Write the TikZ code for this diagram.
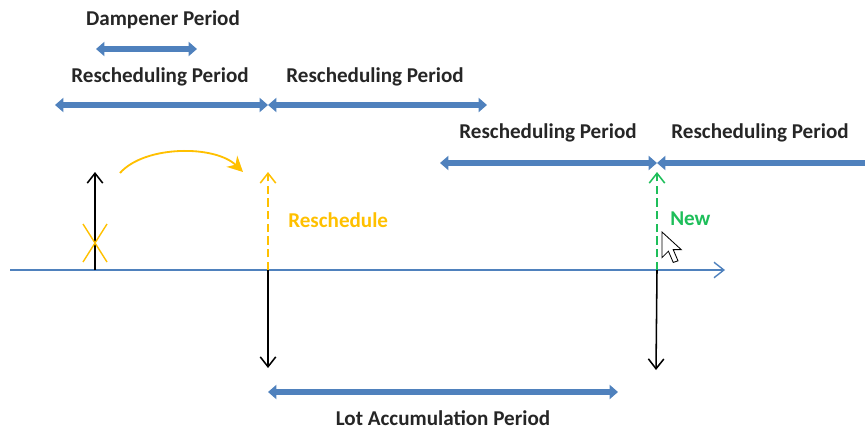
\documentclass[tikz,border=0pt]{standalone}
\usepackage{fontspec}
\setmainfont{Carlito}
\usetikzlibrary{arrows.meta}
\definecolor{periodblue}{RGB}{79,129,189}
\definecolor{reorange}{RGB}{255,192,0}
\definecolor{newgreen}{RGB}{30,190,90}
\definecolor{labelgray}{RGB}{38,38,38}
\begin{document}
\begin{tikzpicture}[x=0.025cm, y=-0.025cm,
  period/.style={periodblue, line width=3.6pt, {Triangle[width=10pt,length=6pt]}-{Triangle[width=10pt,length=6pt]}},
  lbl/.style={font=\bfseries\fontsize{15}{18}\selectfont, text=labelgray, inner sep=0pt},
  tick/.style={line width=1.1pt, -{Straight Barb[length=7pt,width=11pt]}},
  flag/.style={tick, dash pattern=on 6pt off 3pt}]
\useasboundingbox (0,0) rectangle (865,433);
\clip (0,0) rectangle (865,433);
% periods
\node[lbl] (damp) at (163,20) {Dampener Period};
\node[lbl] (res1) at (160,77) {Rescheduling Period};
\node[lbl] (res2) at (375,77) {Rescheduling Period};
\node[lbl] (res3) at (548,133) {Rescheduling Period};
\node[lbl] (res4) at (760,133) {Rescheduling Period};
\node[lbl] (lot) at (443,418) {Lot Accumulation Period};
\coordinate (d1) at (96,49);
\coordinate (d2) at (197,49);
\coordinate (r1) at (55,105);
\coordinate (r2) at (268,105);
\coordinate (r3) at (487,105);
\coordinate (s1) at (440,163);
\coordinate (s2) at (657,163);
\coordinate (s3) at (885,163);
\coordinate (l1) at (268,392);
\coordinate (l2) at (618,392);
\draw[period] (d1) -- (d2);
\draw[period] (r1) -- (r2);
\draw[period] (r2) -- (r3);
\draw[period] (s1) -- (s2);
\draw[period] (s2) -- (s3);
\draw[period] (l1) -- (l2);
% time line
\coordinate (t0) at (10,270);
\coordinate (t1) at (725,270);
\draw[periodblue, line width=1pt, -{Straight Barb[length=7pt,width=11pt]}] (t0) -- (t1);
% order points
\coordinate (o0) at (95,270);
\coordinate (o1) at (95,172);
\coordinate (n0) at (268,270);
\coordinate (n1) at (268,172);
\coordinate (n2) at (268,368);
\coordinate (m0) at (657,270);
\coordinate (m1) at (657,172);
\coordinate (m2) at (656,370);
\draw[tick] (o0) -- (o1);
\draw[tick] (n0) -- (n2);
\draw[tick] (m0) -- (m2);
\draw[flag, reorange] (n0) -- (n1);
\draw[flag, newgreen] (m0) -- (m1);
% cancelled order
\draw[reorange, line width=1pt] (83,224) -- (107,262) (107,224) -- (83,262);
\coordinate (c0) at (120,173);
\coordinate (c1) at (243,172);
\draw[reorange, line width=1.3pt, -{Stealth[length=11pt,width=11pt]}] (c0) .. controls (145,145) and (215,145) .. (c1);
\node[lbl, text=reorange, anchor=west] (resch) at (288,220) {Reschedule};
\node[lbl, text=newgreen, anchor=west] (new) at (670,219) {New};
% cursor
\draw[fill=white, line width=0.6pt, shift={(662,232)}, scale=1.6]
  (0,0) -- (0,16) -- (4,12) -- (7,19) -- (10,18) -- (7,11) -- (12,11) -- cycle;
\end{tikzpicture}
\end{document}
